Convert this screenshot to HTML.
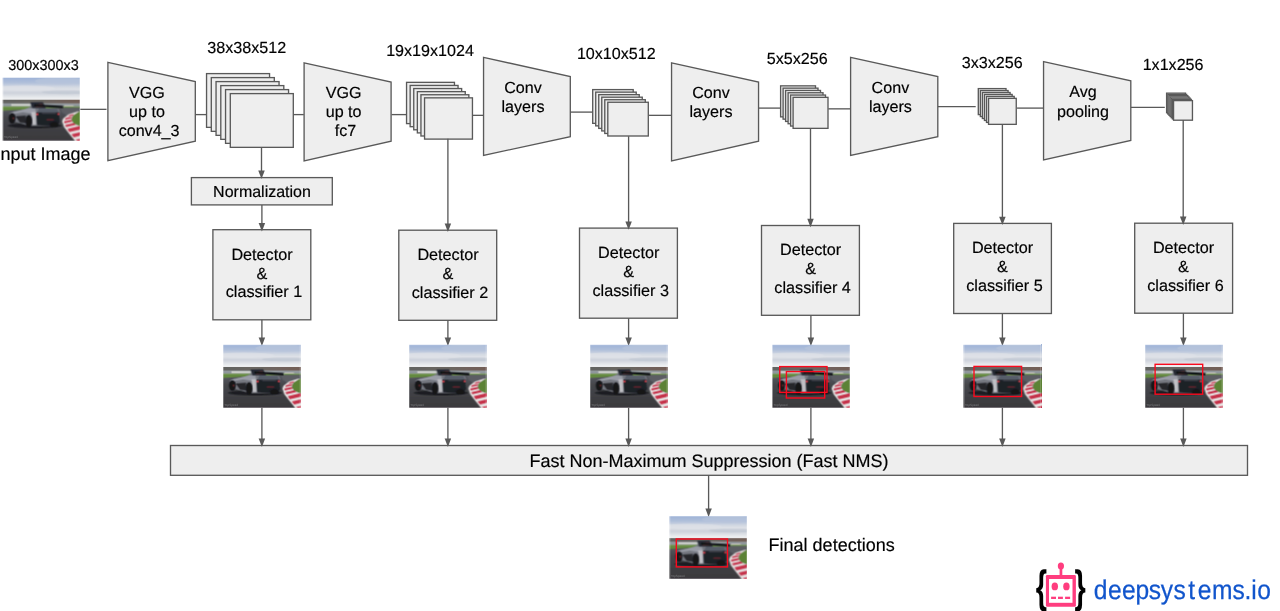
<!DOCTYPE html>
<html lang="en">
<head>
<meta charset="utf-8">
<title>SSD architecture with Fast NMS</title>
<style>
html,body{margin:0;padding:0;background:#fff;overflow:hidden}
svg{display:block}
.sh line,.sh path,.sh rect{stroke:#595959;stroke-width:1.33;fill:#eeeeee}
.sh line{fill:none}
.sh path.ah{fill:#595959;stroke:none}
.tx text{font-family:"Liberation Sans",Arial,sans-serif;fill:#000;stroke:#000;stroke-width:.18px;stroke-linejoin:round}
svg text{text-rendering:geometricPrecision}
svg{opacity:.999}
.rb{fill:none;stroke:#fa0a1e;stroke-width:1.4}
</style>
</head>
<body>
<svg width="1280" height="611" viewBox="0 0 1280 611">
<defs>
<linearGradient id="sky" x1="0" y1="42" x2="0" y2="236" gradientUnits="userSpaceOnUse">
<stop offset="0" stop-color="#9fb4d8"/>
<stop offset="0.22" stop-color="#b1c0db"/>
<stop offset="0.4" stop-color="#d3d9e3"/>
<stop offset="0.52" stop-color="#dfe2e8"/>
<stop offset="0.66" stop-color="#cdd2db"/>
<stop offset="0.8" stop-color="#e0e3e8"/>
<stop offset="0.92" stop-color="#f0f1f3"/>
<stop offset="1" stop-color="#e6e7e8"/>
</linearGradient>
<linearGradient id="trk" x1="0" y1="300" x2="0" y2="575" gradientUnits="userSpaceOnUse">
<stop offset="0" stop-color="#575961"/>
<stop offset="0.3" stop-color="#45464b"/>
<stop offset="1" stop-color="#3a393c"/>
</linearGradient>
<linearGradient id="tree" x1="70" y1="0" x2="725" y2="0" gradientUnits="userSpaceOnUse">
<stop offset="0" stop-color="#626360"/>
<stop offset="0.5" stop-color="#6b6762"/>
<stop offset="1" stop-color="#735d56"/>
</linearGradient>
<filter id="bl" x="-5%" y="-5%" width="110%" height="110%"><feGaussianBlur stdDeviation="6"/></filter>
<mask id="cc" maskUnits="userSpaceOnUse" x="40" y="20" width="720" height="590"><rect x="70" y="42" width="655" height="533" fill="#fff"/></mask>
<symbol id="car" viewBox="70 42 655 533" preserveAspectRatio="none">
<g mask="url(#cc)">
<g filter="url(#bl)">
<rect x="30" y="10" width="740" height="240" fill="url(#sky)"/>
<ellipse cx="560" cy="70" rx="220" ry="30" fill="#b9c6dc" opacity="0.7"/>
<ellipse cx="250" cy="130" rx="260" ry="22" fill="#dfe2e8" opacity="0.7"/>
<ellipse cx="600" cy="165" rx="200" ry="16" fill="#bcc3cf" opacity="0.5"/>
<rect x="30" y="233" width="740" height="30" fill="url(#tree)"/>
<rect x="30" y="260" width="740" height="28" fill="#8f969c"/>
<rect x="140" y="266" width="165" height="13" fill="#e0e0da"/>
<rect x="590" y="276" width="80" height="9" fill="#d2cdc5"/>
<rect x="30" y="286" width="740" height="40" fill="#648a3f"/>
<path d="M30 324 L200 314 L300 304 L560 297 L770 297 L770 600 L30 600Z" fill="url(#trk)"/>
<path d="M560 298 L770 298 L770 335 L690 335 L610 362 L570 335Z" fill="#5b5d64"/>
<!-- right grass -->
<path d="M722 326 L664 364 L651 399 L672 430 L724 451 L770 454 L770 318Z" fill="#5b8236"/>
<!-- kerb white base -->
<path d="M702 328 L628 352 L581 388 L572 411 L588 460 L634 520 L674 568 L690 600 L770 600 L770 451 L724 451 L672 430 L651 399 L664 364 L722 326Z" fill="#e6e0e0"/>
<!-- kerb red stripes -->
<path d="M634 360 L672 350 L664 362 L622 372Z" fill="#c5314a"/>
<path d="M602 384 L656 373 L653 386 L596 398Z" fill="#c5314a"/>
<path d="M590 412 L652 399 L658 413 L592 428Z" fill="#c5314a"/>
<path d="M598 442 L672 426 L690 440 L606 460Z" fill="#c5314a"/>
<path d="M618 476 L722 452 L770 458 L770 470 L634 502Z" fill="#c5314a"/>
<path d="M652 522 L770 494 L770 522 L672 546Z" fill="#c5314a"/>
<path d="M690 568 L770 548 L770 600 L712 600Z" fill="#c5314a"/>
<!-- car shadow -->
<ellipse cx="340" cy="448" rx="232" ry="22" fill="#1e1f23"/>
<!-- car body base -->
<path d="M122 348 L160 326 L250 312 L298 290 L330 262 L400 262 L430 300 L545 306 L556 340 L552 420 L520 448 L300 452 L200 424 L128 402Z" fill="#74777f"/>
<!-- upper silver highlight -->
<path d="M135 338 L200 322 L292 298 L345 304 L348 332 L318 348 L240 334 L180 346 L140 352Z" fill="#9a9da7"/>
<!-- rear fender light panel -->
<path d="M310 332 L350 330 L352 440 L322 442Z" fill="#c0c0c5"/>
<!-- side void -->
<path d="M176 368 L264 362 L264 428 L214 422Z" fill="#26272c"/>
<!-- rear dark -->
<path d="M352 335 L550 335 L554 420 L522 452 L360 442Z" fill="#1d2027"/>
<path d="M378 300 L530 308 L546 336 L360 336Z" fill="#565d69"/>
<!-- cockpit -->
<path d="M302 250 L408 248 L434 300 L318 298Z" fill="#282c35"/>
<path d="M340 268 L400 262 L420 290 L350 290Z" fill="#6a3a3a"/>
<!-- spoiler -->
<path d="M335 266 L580 280 L580 300 L560 298 L335 284Z" fill="#101216"/>
<!-- wheels -->
<ellipse cx="148" cy="385" rx="29" ry="45" fill="#141519"/>
<ellipse cx="158" cy="386" rx="7" ry="12" fill="#6a2a2a"/>
<ellipse cx="290" cy="410" rx="29" ry="52" fill="#141519"/>
<ellipse cx="505" cy="440" rx="36" ry="22" fill="#141519"/>
<!-- lights -->
<ellipse cx="362" cy="352" rx="10" ry="11" fill="#c8404a"/>
<ellipse cx="541" cy="350" rx="9" ry="11" fill="#c8404a"/>
<rect x="440" y="392" width="62" height="12" fill="#6a272e"/>
<rect x="400" y="338" width="120" height="10" fill="#474a52"/>
</g>
<text x="80" y="556" font-size="26" font-family="'Liberation Sans',sans-serif" fill="#8e8e92" opacity="0.75" filter="url(#bl)">TopSpeed</text>
</g>
</symbol>

</defs>
<g class="sh" transform="translate(0.3,0.35)">
<line x1="80" y1="109.0" x2="106.2" y2="109.0"/>
<line x1="195" y1="114.25" x2="206.5" y2="114.25"/>
<line x1="293" y1="114.25" x2="303.5" y2="114.25"/>
<line x1="391.25" y1="114.25" x2="406.5" y2="114.25"/>
<line x1="472" y1="115" x2="483.25" y2="115"/>
<line x1="570" y1="111.75" x2="592" y2="111.75"/>
<line x1="648.75" y1="115" x2="671.25" y2="115"/>
<line x1="758.25" y1="107.75" x2="780" y2="107.75"/>
<line x1="828" y1="108.5" x2="850.75" y2="108.5"/>
<line x1="937.5" y1="106.25" x2="975.4" y2="106.25"/>
<line x1="1016.75" y1="107.75" x2="1043.25" y2="107.75"/>
<line x1="1130.5" y1="107" x2="1164.5" y2="107"/>
<path d="M107.6 62L195 81.25L195 140.75L107.6 160.4Z"/>
<path d="M303.8 62.5L390.8 81.75L390.8 140.75L303.8 160.5Z"/>
<path d="M483.25 57L570 76.25L570 136.25L483.25 155Z"/>
<path d="M671.25 62.5L758.25 81.75L758.25 140.75L671.25 160.5Z"/>
<path d="M850.3 57L937.5 76.25L937.5 136.25L850.3 155Z"/>
<path d="M1043.25 61.25L1130.5 80.5L1130.5 140L1043.25 159.5Z"/>
<rect x="206.25" y="73.25" width="63.00" height="53.75"/>
<rect x="211.00" y="77.25" width="63.00" height="53.75"/>
<rect x="215.75" y="81.25" width="63.00" height="53.75"/>
<rect x="220.50" y="85.25" width="63.00" height="53.75"/>
<rect x="225.25" y="89.25" width="63.00" height="53.75"/>
<rect x="230.00" y="93.25" width="63.00" height="53.75"/>
<rect x="406.25" y="82.00" width="47.90" height="41.25"/>
<rect x="409.85" y="85.10" width="47.90" height="41.25"/>
<rect x="413.45" y="88.20" width="47.90" height="41.25"/>
<rect x="417.05" y="91.30" width="47.90" height="41.25"/>
<rect x="420.65" y="94.40" width="47.90" height="41.25"/>
<rect x="424.25" y="97.50" width="47.90" height="41.25"/>
<rect x="592.40" y="89.25" width="40.50" height="33.75"/>
<rect x="595.42" y="91.78" width="40.50" height="33.75"/>
<rect x="598.44" y="94.31" width="40.50" height="33.75"/>
<rect x="601.46" y="96.84" width="40.50" height="33.75"/>
<rect x="604.48" y="99.37" width="40.50" height="33.75"/>
<rect x="607.50" y="101.90" width="40.50" height="33.75"/>
<rect x="780.30" y="85.50" width="34.90" height="31.00"/>
<rect x="782.80" y="87.80" width="34.90" height="31.00"/>
<rect x="785.30" y="90.10" width="34.90" height="31.00"/>
<rect x="787.80" y="92.40" width="34.90" height="31.00"/>
<rect x="790.30" y="94.70" width="34.90" height="31.00"/>
<rect x="792.80" y="97.00" width="34.90" height="31.00"/>
<rect x="978.00" y="88.25" width="27.70" height="26.00"/>
<rect x="980.05" y="90.20" width="27.70" height="26.00"/>
<rect x="982.10" y="92.15" width="27.70" height="26.00"/>
<rect x="984.15" y="94.10" width="27.70" height="26.00"/>
<rect x="986.20" y="96.05" width="27.70" height="26.00"/>
<rect x="988.25" y="98.00" width="27.70" height="26.00"/>
<rect x="1166.30" y="92.80" width="18.90" height="19.60"/>
<rect x="1167.46" y="94.04" width="18.90" height="19.60"/>
<rect x="1168.62" y="95.28" width="18.90" height="19.60"/>
<rect x="1169.78" y="96.53" width="18.90" height="19.60"/>
<rect x="1170.93" y="97.77" width="18.90" height="19.60"/>
<rect x="1172.09" y="99.01" width="18.90" height="19.60"/>
<rect x="1173.25" y="100.25" width="18.90" height="19.60"/>
</g>
<g class="sh">
<rect x="191.40" y="177.60" width="140.90" height="27.30"/>
<rect x="212.90" y="229.70" width="97.90" height="90.10"/>
<rect x="398.80" y="230.20" width="97.90" height="90.10"/>
<rect x="579.50" y="228.10" width="97.90" height="90.10"/>
<rect x="761.50" y="225.50" width="97.90" height="89.80"/>
<rect x="953.70" y="223.40" width="97.70" height="90.10"/>
<rect x="1134.70" y="223.20" width="97.90" height="90.00"/>
<rect x="170.50" y="445.50" width="1077.00" height="29.80"/>
<line x1="261.5" y1="147" x2="261.5" y2="171.6"/>
<path class="ah" d="M258.25 170.60L264.75 170.60L261.5 179.0Z"/>
<line x1="261.9" y1="204.9" x2="261.9" y2="223.99999999999997"/>
<path class="ah" d="M258.65 223.00L265.15 223.00L261.9 231.39999999999998Z"/>
<line x1="447.9" y1="138.75" x2="447.9" y2="224.49999999999997"/>
<path class="ah" d="M444.65 223.50L451.15 223.50L447.9 231.89999999999998Z"/>
<line x1="628.6" y1="136.25" x2="628.6" y2="222.39999999999998"/>
<path class="ah" d="M625.35 221.40L631.85 221.40L628.6 229.79999999999998Z"/>
<line x1="810.5" y1="128" x2="810.5" y2="219.79999999999998"/>
<path class="ah" d="M807.25 218.80L813.75 218.80L810.5 227.2Z"/>
<line x1="1002.4" y1="124.5" x2="1002.4" y2="217.7"/>
<path class="ah" d="M999.15 216.70L1005.65 216.70L1002.4 225.1Z"/>
<line x1="1183.2" y1="120" x2="1183.2" y2="217.49999999999997"/>
<path class="ah" d="M1179.95 216.50L1186.45 216.50L1183.2 224.89999999999998Z"/>
<line x1="261.9" y1="319.8" x2="261.9" y2="338.5"/>
<path class="ah" d="M258.65 337.50L265.15 337.50L261.9 345.9Z"/>
<line x1="261.9" y1="407.8" x2="261.9" y2="439.6"/>
<path class="ah" d="M258.65 438.60L265.15 438.60L261.9 447.0Z"/>
<line x1="447.9" y1="320.3" x2="447.9" y2="338.5"/>
<path class="ah" d="M444.65 337.50L451.15 337.50L447.9 345.9Z"/>
<line x1="447.9" y1="407.8" x2="447.9" y2="439.6"/>
<path class="ah" d="M444.65 438.60L451.15 438.60L447.9 447.0Z"/>
<line x1="628.6" y1="318.2" x2="628.6" y2="338.5"/>
<path class="ah" d="M625.35 337.50L631.85 337.50L628.6 345.9Z"/>
<line x1="628.6" y1="407.8" x2="628.6" y2="439.6"/>
<path class="ah" d="M625.35 438.60L631.85 438.60L628.6 447.0Z"/>
<line x1="810.9" y1="315.3" x2="810.9" y2="338.5"/>
<path class="ah" d="M807.65 337.50L814.15 337.50L810.9 345.9Z"/>
<line x1="810.9" y1="407.8" x2="810.9" y2="439.6"/>
<path class="ah" d="M807.65 438.60L814.15 438.60L810.9 447.0Z"/>
<line x1="1002.4" y1="313.5" x2="1002.4" y2="338.5"/>
<path class="ah" d="M999.15 337.50L1005.65 337.50L1002.4 345.9Z"/>
<line x1="1002.4" y1="407.8" x2="1002.4" y2="439.6"/>
<path class="ah" d="M999.15 438.60L1005.65 438.60L1002.4 447.0Z"/>
<line x1="1183.4" y1="313.2" x2="1183.4" y2="338.5"/>
<path class="ah" d="M1180.15 337.50L1186.65 337.50L1183.4 345.9Z"/>
<line x1="1183.4" y1="407.8" x2="1183.4" y2="439.6"/>
<path class="ah" d="M1180.15 438.60L1186.65 438.60L1183.4 447.0Z"/>
<line x1="708.6" y1="475.3" x2="708.6" y2="509.5000000000001"/>
<path class="ah" d="M705.35 508.50L711.85 508.50L708.6 516.9000000000001Z"/>
</g>
<use href="#car" x="2.9" y="77.7" width="77.1" height="62.9"/>
<use href="#car" x="223.1" y="344.9" width="77.3" height="62.9"/>
<use href="#car" x="409.0" y="344.9" width="77.3" height="62.9"/>
<use href="#car" x="590.0" y="344.9" width="77.3" height="62.9"/>
<use href="#car" x="772.4" y="344.9" width="77.3" height="62.9"/>
<use href="#car" x="963.8" y="344.9" width="77.3" height="62.9"/>
<use href="#car" x="1145.0" y="344.9" width="77.3" height="62.9"/>
<use href="#car" x="669.7" y="516.1" width="77.3" height="62.9"/>
<rect class="rb" x="779.70" y="366.60" width="47.30" height="25.80"/>
<rect class="rb" x="786.40" y="371.60" width="38.30" height="26.40"/>
<rect class="rb" x="974.00" y="366.40" width="47.60" height="30.10"/>
<rect class="rb" x="1155.10" y="364.30" width="47.60" height="29.90"/>
<rect class="rb" x="676.30" y="539.00" width="51.20" height="27.90"/>
<g class="tx" transform="translate(0,-0.2)">
<text x="8.3" y="69.8" font-size="14.4" text-anchor="start">300x300x3</text>
<text x="-4.6" y="159.8" font-size="18" text-anchor="start">Input Image</text>
<text x="246.7" y="53.65" font-size="16.15" text-anchor="middle">38x38x512</text>
<text x="430" y="56.4" font-size="16.1" text-anchor="middle">19x19x1024</text>
<text x="616.3" y="59.65" font-size="16.1" text-anchor="middle">10x10x512</text>
<text x="797.2" y="64.2" font-size="16.15" text-anchor="middle">5x5x256</text>
<text x="992.3" y="68.7" font-size="16.1" text-anchor="middle">3x3x256</text>
<text x="1173.1" y="70.6" font-size="16.1" text-anchor="middle">1x1x256</text>
<text x="147" y="98.25" font-size="16.1" text-anchor="middle">VGG</text>
<text x="147" y="117.45" font-size="16.1" text-anchor="middle">up to</text>
<text x="149.1" y="136.65" font-size="16.1" text-anchor="middle">conv4_3</text>
<text x="343.6" y="98.25" font-size="16.1" text-anchor="middle">VGG</text>
<text x="343.6" y="117.45" font-size="16.1" text-anchor="middle">up to</text>
<text x="345.5" y="136.65" font-size="16.1" text-anchor="middle">fc7</text>
<text x="523.0" y="93.15" font-size="16.1" text-anchor="middle">Conv</text>
<text x="523.0" y="112.25" font-size="16.1" text-anchor="middle">layers</text>
<text x="711.0" y="98.6" font-size="16.1" text-anchor="middle">Conv</text>
<text x="711.0" y="117.7" font-size="16.1" text-anchor="middle">layers</text>
<text x="890.4" y="93.15" font-size="16.1" text-anchor="middle">Conv</text>
<text x="890.4" y="112.25" font-size="16.1" text-anchor="middle">layers</text>
<text x="1083" y="97.65" font-size="16.1" text-anchor="middle">Avg</text>
<text x="1083" y="116.75" font-size="16.1" text-anchor="middle">pooling</text>
<text x="262" y="197" font-size="16" text-anchor="middle">Normalization</text>
<text x="262.0" y="260.1" font-size="16.2" text-anchor="middle">Detector</text>
<text x="262.0" y="278.85" font-size="16.2" text-anchor="middle">&amp;</text>
<text x="264.0" y="297.6" font-size="16.2" text-anchor="middle">classifier 1</text>
<text x="448.0" y="260.4" font-size="16.2" text-anchor="middle">Detector</text>
<text x="448.0" y="279.15" font-size="16.2" text-anchor="middle">&amp;</text>
<text x="450.0" y="297.9" font-size="16.2" text-anchor="middle">classifier 2</text>
<text x="628.7" y="258.4" font-size="16.2" text-anchor="middle">Detector</text>
<text x="628.7" y="277.15" font-size="16.2" text-anchor="middle">&amp;</text>
<text x="630.7" y="295.9" font-size="16.2" text-anchor="middle">classifier 3</text>
<text x="810.6" y="255.5" font-size="16.2" text-anchor="middle">Detector</text>
<text x="810.6" y="274.25" font-size="16.2" text-anchor="middle">&amp;</text>
<text x="812.6" y="293.0" font-size="16.2" text-anchor="middle">classifier 4</text>
<text x="1002.5" y="253.7" font-size="16.2" text-anchor="middle">Detector</text>
<text x="1002.5" y="272.45" font-size="16.2" text-anchor="middle">&amp;</text>
<text x="1004.5" y="291.2" font-size="16.2" text-anchor="middle">classifier 5</text>
<text x="1183.5" y="253.4" font-size="16.2" text-anchor="middle">Detector</text>
<text x="1183.5" y="272.15" font-size="16.2" text-anchor="middle">&amp;</text>
<text x="1185.5" y="290.9" font-size="16.2" text-anchor="middle">classifier 6</text>
<text x="709" y="467.2" font-size="18" text-anchor="middle">Fast Non-Maximum Suppression (Fast NMS)</text>
<text x="768.6" y="551.25" font-size="18" text-anchor="start">Final detections</text>
</g>
<g id="logo">
<text transform="translate(1035.7,601.8) scale(0.64,1)" font-size="45.3" font-weight="bold" fill="#000" font-family="'Liberation Sans',sans-serif">{</text>
<text transform="translate(1074.4,601.8) scale(0.64,1)" font-size="45.3" font-weight="bold" fill="#000" font-family="'Liberation Sans',sans-serif">}</text>
<rect x="1045.9" y="575" width="30" height="31.8" rx="1.2" fill="#ff3d7f"/>
<rect x="1049" y="579" width="23.5" height="23.8" fill="#fff"/>
<rect x="1059.6" y="566" width="2.7" height="10" fill="#ff3d7f"/>
<ellipse cx="1060.9" cy="566" rx="3.1" ry="3.6" fill="#ff3d7f"/>
<ellipse cx="1054.8" cy="586.4" rx="3.2" ry="3.9" fill="#ff3d7f"/>
<ellipse cx="1066.4" cy="586.4" rx="3.2" ry="3.9" fill="#ff3d7f"/>
<rect x="1051.1" y="596.7" width="4.9" height="2.3" fill="#ff3d7f"/>
<rect x="1058" y="596.7" width="4.9" height="2.3" fill="#ff3d7f"/>
<rect x="1065.1" y="596.7" width="5" height="2.3" fill="#ff3d7f"/>
<text transform="translate(1094,598.8) scale(0.91,1)" x="-0.2 15.3 30.8 45.5 60.3 73.4 87.3 103.5 114.1 129.6 152.1 165.5 172.9 179.5" y="0" font-size="27" fill="#1155cc" stroke="#1155cc" stroke-width="0.25" font-family="'Liberation Sans',sans-serif">deepsystems.io</text>
</g>
</svg>
</body>
</html>
